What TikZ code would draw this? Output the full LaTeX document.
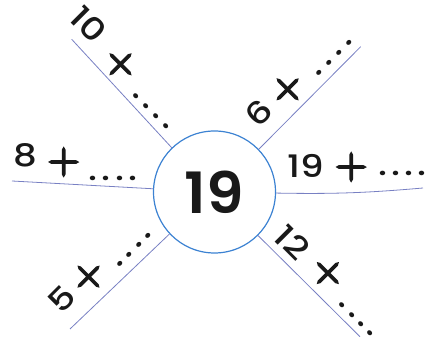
\documentclass[tikz,border=0pt]{standalone}
\usepackage{fontspec}
\newfontfamily\numf{Poppins Medium}[FakeStretch=1.2]
\newfontfamily\hubf{Poppins SemiBold}[FakeStretch=1.05]
\newfontfamily\plusf{Latin Modern Roman}[FakeBold=5]
\definecolor{lncol}{RGB}{120,128,195}
\definecolor{circcol}{RGB}{60,130,210}
\definecolor{txtcol}{RGB}{25,25,25}
\newcommand\plusglyph{{\plusf\fontsize{43}{43}\selectfont +}}
\newcommand\onedot[1]{\makebox[0pt]{\raisebox{\dimexpr #1-1.7pt\relax}{.}}}
% #1 digits, #2 gap digits->plus, #3 plus centre above baseline, #4 gap plus->dots, #5 dot centre above baseline, #6 dot spacing
\newcommand\lbl[6]{\makebox[0pt]{#1}\hspace{#2}\makebox[0pt]{\raisebox{\dimexpr #3-10.75pt\relax}{\plusglyph}}\hspace{#4}\onedot{#5}\hspace{#6}\onedot{#5}\hspace{#6}\onedot{#5}\hspace{#6}\onedot{#5}}
\begin{document}
\begin{tikzpicture}[x=1pt,y=1pt,
  spoke/.style={draw=lncol, line width=0.8pt},
  lab/.style={anchor=base west, inner sep=0pt, text=txtcol, font=\numf\fontsize{31}{31}\selectfont},
  hub/.style={circle, draw=circcol, line width=1.2pt, minimum size=122pt, inner sep=0pt, text=txtcol, font=\hubf\fontsize{57}{57}\selectfont}]
\useasboundingbox (0,0) rectangle (429,342);
\node[hub] (c) at (214.5,150) {19};
\coordinate (pl) at (12,161);
\coordinate (pr) at (423,154);
\coordinate (pul) at (71.7,302.7);
\coordinate (pur) at (360.7,295.3);
\coordinate (pll) at (70,13);
\coordinate (plr) at (360,5.3);
\draw[spoke] (c.177) -- (pl);
\draw[spoke] (c.-1) to[bend right=3] (pr);
\draw[spoke] (c.134) -- (pul);
\draw[spoke] (c.44) -- (pur);
\draw[spoke] (c.223) -- (pll);
\draw[spoke] (c.315) -- (plr);
\node[lab] (t8) at (25,175) {\lbl{8}{38.5pt}{5pt}{29.5pt}{-11.5pt}{13.3pt}};
\node[lab] (t19) at (306,164) {\lbl{19}{45pt}{11pt}{32pt}{4pt}{13pt}};
\node[lab, rotate=-45] (t10) at (80.1,309.7) {\lbl{10}{51pt}{6pt}{33.7pt}{-6pt}{14pt}};
\node[lab, rotate=45] (t6) at (267.1,220.9) {\lbl{6}{36.8pt}{8pt}{34.3pt}{-3pt}{14pt}};
\node[lab, rotate=45] (t5) at (69.5,35.2) {\lbl{5}{34.6pt}{7.9pt}{31.2pt}{-5.7pt}{13.3pt}};
\node[lab, rotate=-45] (t12) at (283.9,91.7) {\lbl{12}{47pt}{15pt}{33.3pt}{2pt}{13.2pt}};
\end{tikzpicture}
\end{document}
